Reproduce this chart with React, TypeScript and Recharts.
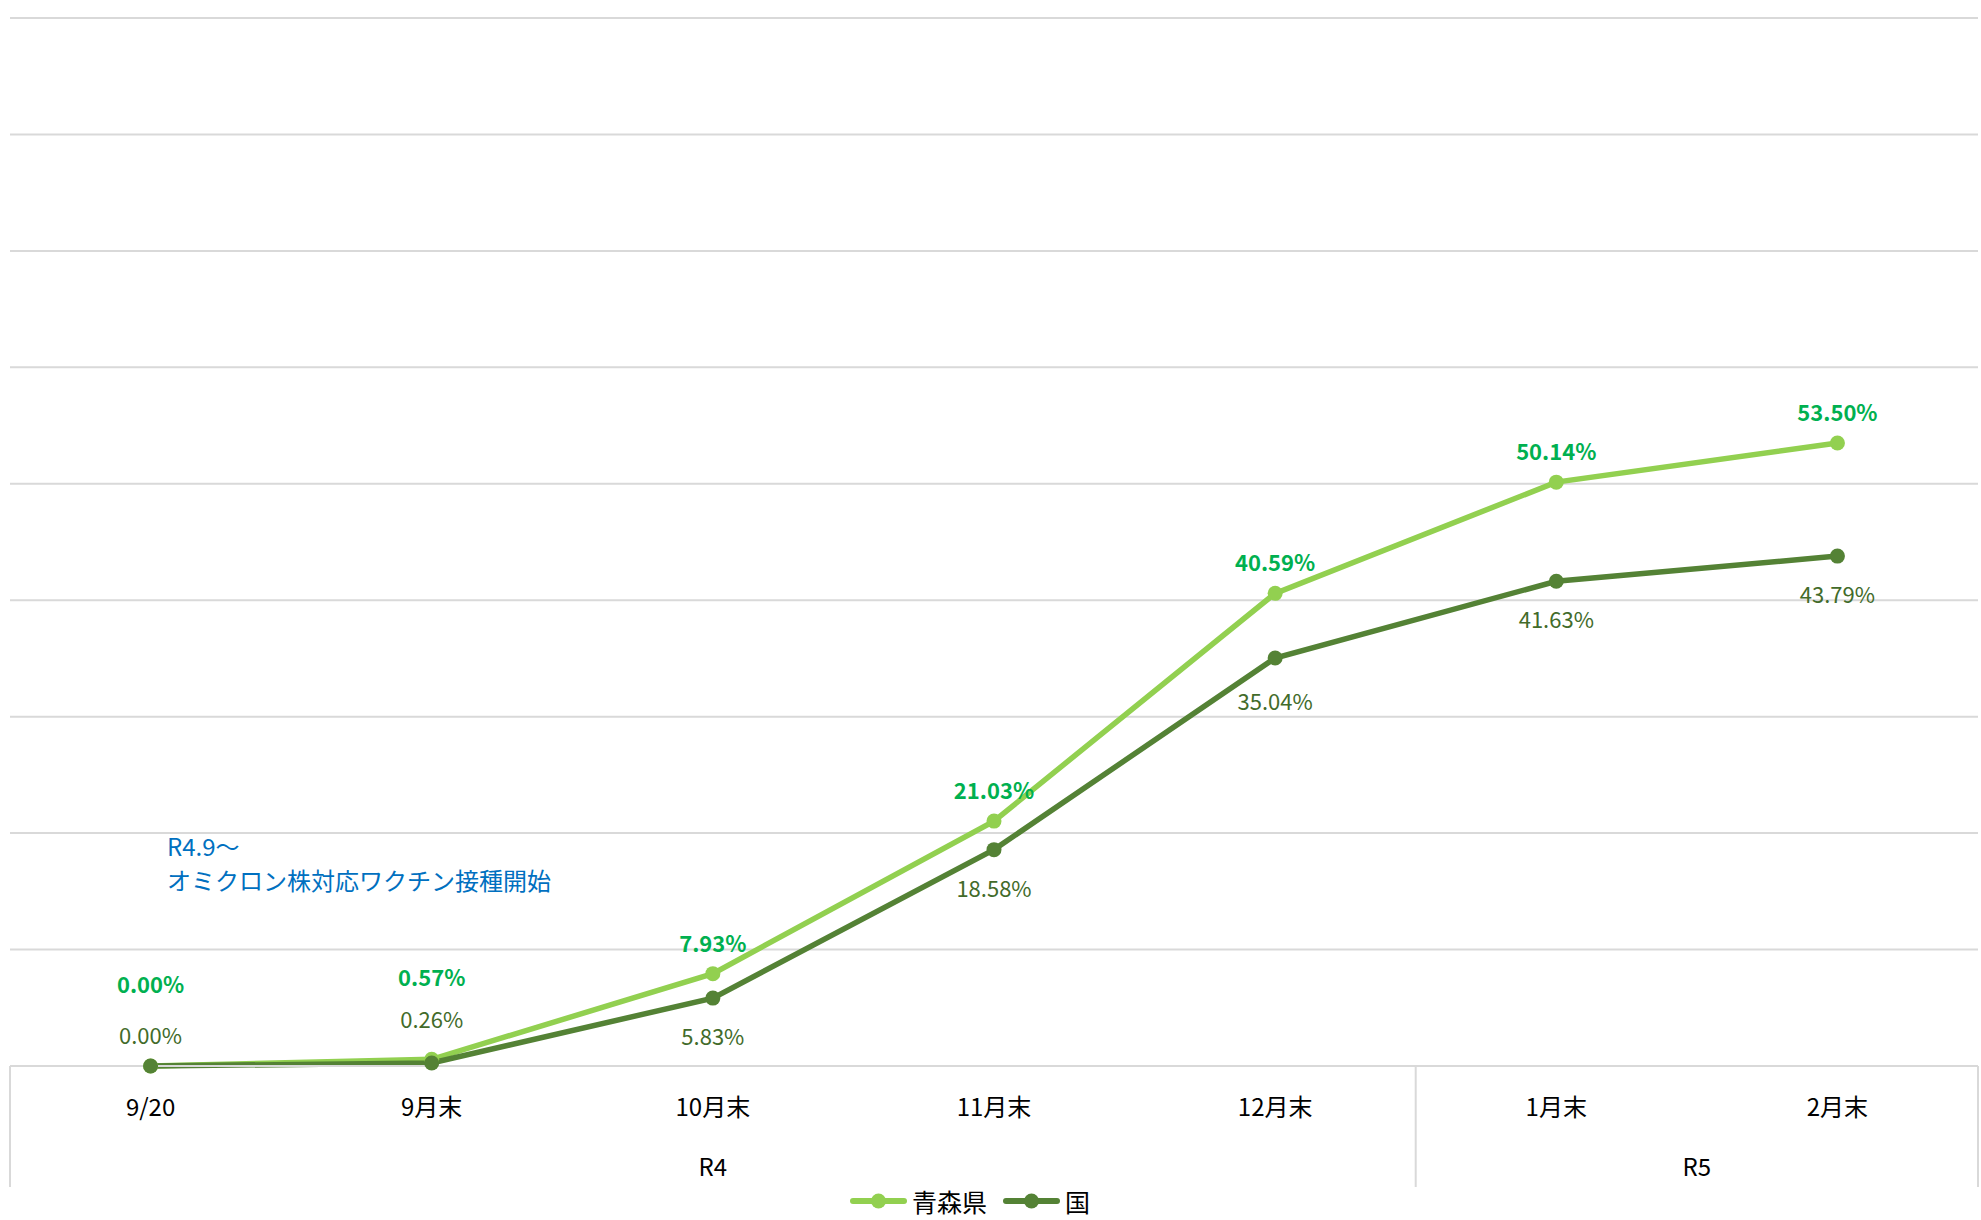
import React from 'react';
import { LineChart, Line, XAxis, YAxis, CartesianGrid, LabelList, Legend } from 'recharts';

const categories = ['9/20', '9月末', '10月末', '11月末', '12月末', '1月末', '2月末'];
const aomoriValues = [0, 0.57, 7.93, 21.03, 40.59, 50.14, 53.5];
const nationalValues = [0, 0.26, 5.83, 18.58, 35.04, 41.63, 43.79];
const yTicks = [0, 10, 20, 30, 40, 50, 60, 70, 80, 90];
const groupLabels = ['R4', 'R5'];
const groupCenters = [2, 5.5];
const groupBounds = [-0.5, 4.5, 6.5];
const seriesNames = ['青森県', '国'];
const seriesColors = ['#92D050', '#548235'];
const noteLines = ['R4.9～', 'オミクロン株対応ワクチン接種開始'];

const data = categories.map((c, i) => ({
  label: c,
  idx: i,
  aomori: aomoriValues[i],
  national: nationalValues[i],
}));

const groupTicks = [...groupBounds, ...groupCenters].sort((a, b) => a - b);

const FONT = "'Noto Sans CJK JP', 'Noto Sans', sans-serif";

const CatTick = (props: any) => {
  const { x, y, payload } = props;
  return (
    <text x={x} y={y + 39} textAnchor="middle" dominantBaseline="central" fontSize={24} fill="#000" fontFamily={FONT}>
      {payload.value}
    </text>
  );
};

const GroupTick = (props: any) => {
  const { x, y, payload } = props;
  const v = payload.value;
  const gi = groupCenters.indexOf(v);
  if (gi >= 0) {
    return (
      <text x={x} y={y + 38} textAnchor="middle" dominantBaseline="central" fontSize={24} fill="#000" fontFamily={FONT}>
        {groupLabels[gi]}
      </text>
    );
  }
  return <line x1={x} x2={x} y1={y - 61} y2={y + 60} stroke="#d9d9d9" strokeWidth={2} />;
};

const fmt = (v: any) => `${Number(v).toFixed(2)}%`;

const AomoriLabel = (props: any) => {
  const { x, y, value, index } = props;
  const dy = index < 2 ? -83 : -32;
  return (
    <text x={x} y={y + dy} textAnchor="middle" dominantBaseline="central" fontSize={22} fontWeight="bold" fill="#00B050" fontFamily={FONT}>
      {fmt(value)}
    </text>
  );
};

const NationalLabel = (props: any) => {
  const { x, y, value, index } = props;
  let dy = 37;
  if (index === 0) dy = -32;
  else if (index === 1) dy = -45;
  else if (index === 4) dy = 42;
  return (
    <text x={x} y={y + dy} textAnchor="middle" dominantBaseline="central" fontSize={22} fill="#426B2A" fontFamily={FONT}>
      {fmt(value)}
    </text>
  );
};

const LegendContent = () => (
  <div style={{ display: 'flex', alignItems: 'center', height: 26, fontFamily: FONT, fontSize: 25, color: '#000' }}>
    {seriesNames.map((n, i) => (
      <span key={n} style={{ display: 'flex', alignItems: 'center', marginRight: 16 }}>
        <svg width={57} height={16}>
          <line x1={3} x2={54} y1={8} y2={8} stroke={seriesColors[i]} strokeWidth={6} strokeLinecap="round" />
          <circle cx={28.5} cy={8} r={7.5} fill={seriesColors[i]} />
        </svg>
        <span style={{ marginLeft: 5, lineHeight: '26px' }}>{n}</span>
      </span>
    ))}
  </div>
);

export default function App() {
  return (
    <div style={{ position: 'absolute', left: 0, top: 0, width: 1981, height: 1220, background: '#fff', overflow: 'hidden' }}>
      <LineChart width={1981} height={1220} data={data} margin={{ top: 18, right: 3, left: 10, bottom: 0 }}>
        <CartesianGrid vertical={false} stroke="#d9d9d9" strokeWidth={2} />
        <YAxis hide domain={[0, 90]} ticks={yTicks} />
        <XAxis
          dataKey="label"
          padding={{ left: 140.57, right: 140.57 }}
          axisLine={{ stroke: '#d9d9d9', strokeWidth: 2 }}
          tickLine={false}
          tickSize={0}
          tickMargin={0}
          height={61}
          interval={0}
          tick={<CatTick />}
        />
        <XAxis
          xAxisId="grp"
          dataKey="idx"
          type="number"
          domain={[-0.5, 6.5]}
          allowDataOverflow
          ticks={groupTicks}
          interval={0}
          axisLine={false}
          tickLine={false}
          tickSize={0}
          tickMargin={0}
          height={67}
          tick={<GroupTick />}
        />
        <Legend verticalAlign="bottom" content={<LegendContent />} wrapperStyle={{ left: 850, width: 320, height: 26, bottom: 6 }} />
        <Line
          dataKey="aomori"
          name={seriesNames[0]}
          stroke={seriesColors[0]}
          strokeWidth={5.5}
          dot={{ r: 7.5, fill: seriesColors[0], stroke: 'none' }}
          activeDot={false}
          isAnimationActive={false}
        >
          <LabelList dataKey="aomori" content={<AomoriLabel />} />
        </Line>
        <Line
          dataKey="national"
          name={seriesNames[1]}
          stroke={seriesColors[1]}
          strokeWidth={5.5}
          dot={{ r: 7.5, fill: seriesColors[1], stroke: 'none' }}
          activeDot={false}
          isAnimationActive={false}
        >
          <LabelList dataKey="national" content={<NationalLabel />} />
        </Line>
      </LineChart>
      <div style={{ position: 'absolute', left: 167, top: 829, fontFamily: FONT, fontSize: 24, lineHeight: '34px', color: '#0070C0', whiteSpace: 'nowrap' }}>
        {noteLines.map((t) => (
          <div key={t}>{t}</div>
        ))}
      </div>
    </div>
  );
}
